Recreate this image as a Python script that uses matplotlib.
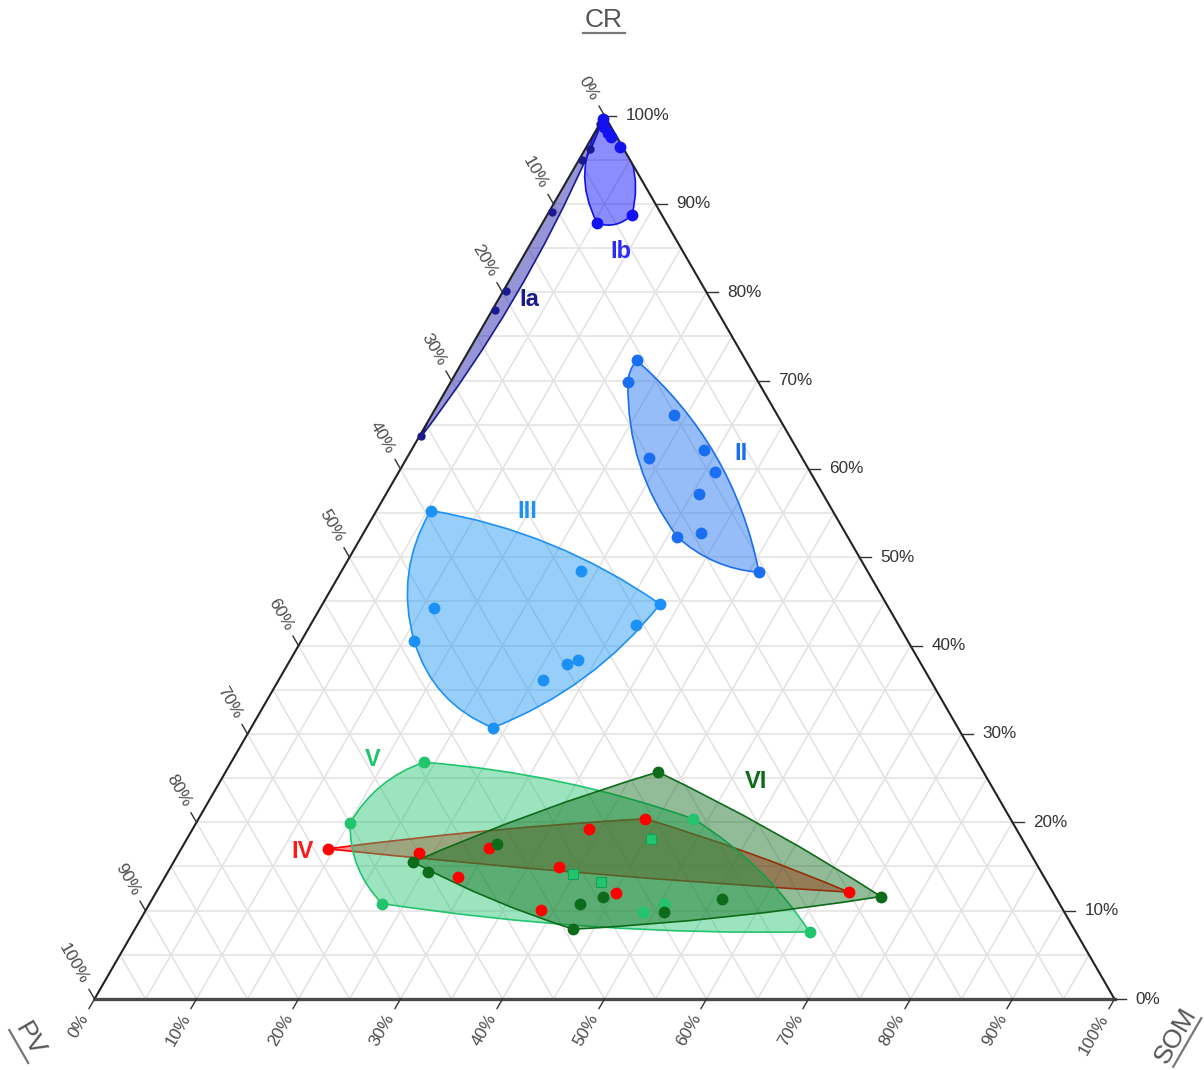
import numpy as np
import matplotlib
matplotlib.use("Agg")
import matplotlib.pyplot as plt
from matplotlib.path import Path
from matplotlib.patches import PathPatch, Polygon

plt.rcParams['font.family'] = ['Liberation Sans', 'DejaVu Sans']

# ---------------- data (percent) ----------------
Ia_CR = [99.0, 96.2, 95.0, 89.1, 80.2, 78.0, 63.7]
Ia_PV = [0.9, 3.3, 4.7, 10.6, 19.6, 21.7, 36.1]
Ia_SOM = [0.1, 0.5, 0.3, 0.3, 0.2, 0.3, 0.2]

Ib_CR = [99.6, 98.7, 98.0, 97.6, 96.4, 87.8, 88.8]
Ib_PV = [0.3, 0.7, 0.7, 0.6, 0.3, 6.8, 2.9]
Ib_SOM = [0.1, 0.6, 1.3, 1.8, 3.3, 5.4, 8.3]

II_CR = [72.3, 69.8, 66.1, 62.2, 61.3, 59.7, 57.2, 52.3, 52.8, 48.3]
II_PV = [10.7, 12.8, 10.1, 9.1, 15.0, 9.3, 12.1, 16.7, 14.1, 10.7]
II_SOM = [17.0, 17.4, 23.8, 28.7, 23.7, 31.0, 30.7, 31.0, 33.1, 41.0]

III_CR = [55.3, 48.5, 44.7, 42.3, 44.3, 40.5, 38.4, 37.9, 36.1, 30.7]
III_PV = [39.4, 28.1, 22.2, 25.8, 44.6, 48.4, 33.4, 34.7, 38.0, 45.6]
III_SOM = [5.3, 23.4, 33.1, 31.9, 11.1, 11.1, 28.2, 27.4, 25.9, 23.7]

IV_CR = [17.0, 16.5, 13.8, 17.1, 19.2, 20.4, 14.9, 10.1, 12.0, 12.1]
IV_PV = [68.6, 59.9, 57.5, 52.8, 41.9, 35.8, 47.0, 51.2, 42.9, 20.0]
IV_SOM = [14.4, 23.6, 28.7, 30.1, 38.9, 43.8, 38.1, 38.7, 45.1, 67.9]

V_CR = [26.8, 19.9, 10.8, 20.4, 7.6, 9.8, 10.8]
V_PV = [54.3, 65.0, 66.4, 31.1, 26.1, 41.3, 38.8]
V_SOM = [18.9, 15.1, 22.8, 48.5, 66.3, 48.9, 50.4]
Vsq_CR = [18.1, 14.1, 13.3]
Vsq_PV = [36.4, 46.0, 43.7]
Vsq_SOM = [45.5, 39.9, 43.0]

VI_CR = [25.7, 11.6, 11.3, 9.8, 11.6, 10.7, 7.9, 17.5, 14.4, 15.5]
VI_PV = [31.9, 17.1, 32.8, 39.3, 44.3, 47.1, 49.1, 51.8, 60.1, 61.0]
VI_SOM = [42.4, 71.3, 55.9, 50.9, 44.1, 42.2, 43.0, 30.7, 25.5, 23.5]

ticks = list(range(0, 101, 10))
tick_labels = [f"{t}%" for t in ticks]
grid_steps = list(range(5, 100, 5))
axis_titles = ['CR', 'PV', 'SOM']

# ---------------- helpers ----------------
S = 1020.0  # pixels per unit side


def to_xy(cr, pv, som):
    cr = np.asarray(cr, float); pv = np.asarray(pv, float); som = np.asarray(som, float)
    s = cr + pv + som
    c, m = cr / s, som / s
    return m + c / 2.0, c * np.sqrt(3) / 2.0


def px(x, y):
    return (x - 94.5) / S, (999 - y) / S


def convex_hull(pts):
    pts = sorted(map(tuple, pts))
    def cross(o, a, b):
        return (a[0]-o[0])*(b[1]-o[1]) - (a[1]-o[1])*(b[0]-o[0])
    lower, upper = [], []
    for p in pts:
        while len(lower) >= 2 and cross(lower[-2], lower[-1], p) <= 0:
            lower.pop()
        lower.append(p)
    for p in reversed(pts):
        while len(upper) >= 2 and cross(upper[-2], upper[-1], p) <= 0:
            upper.pop()
        upper.append(p)
    return [np.array(p) for p in lower[:-1] + upper[:-1]]


def simplify(h, thr):
    h = list(h)
    changed = True
    while changed and len(h) > 3:
        changed = False
        n = len(h)
        for i in range(n):
            p0, p1, p2 = h[i-1], h[i], h[(i+1) % n]
            a1 = np.arctan2(*(p1-p0)[::-1]); a2 = np.arctan2(*(p2-p1)[::-1])
            t = abs((np.degrees(a2-a1) + 180) % 360 - 180)
            if t < thr:
                del h[i]
                changed = True
                break
    return h


def bowed_path(h, a_px, f):
    verts = [h[0]]; codes = [Path.MOVETO]
    n = len(h)
    for i in range(n):
        p, q = h[i], h[(i+1) % n]
        d = q - p
        L = np.hypot(*d)
        nrm = np.array([d[1], -d[0]]) / L
        b = min(a_px / S + f * L, 0.25 * L)
        c = (p + q) / 2 + nrm * 2 * b
        verts += [c, q]; codes += [Path.CURVE3, Path.CURVE3]
    verts.append(h[0]); codes.append(Path.CLOSEPOLY)
    return Path(verts, codes)


# ---------------- figure ----------------
fig = plt.figure(figsize=(12.04, 10.70), dpi=100)
ax = fig.add_axes([0, 0, 1, 1])
ax.set_xlim(-94.5 / S, (1204 - 94.5) / S)
ax.set_ylim((999 - 1070) / S, 999 / S)
ax.axis('off')

# grid
gc = '#e2e2e2'
for k in grid_steps:
    x, y = to_xy([k, k], [100-k, 0], [0, 100-k]); ax.plot(x, y, color=gc, lw=1.1, zorder=1)
    x, y = to_xy([100-k, 0], [k, k], [0, 100-k]); ax.plot(x, y, color=gc, lw=1.1, zorder=1)
    x, y = to_xy([100-k, 0], [0, 100-k], [k, k]); ax.plot(x, y, color=gc, lw=1.1, zorder=1)

# triangle border
tx, ty = to_xy([100, 0, 0], [0, 100, 0], [0, 0, 100])
ax.plot([tx[1], tx[0], tx[2]], [ty[1], ty[0], ty[2]], color='#222222', lw=1.5, zorder=8)
ax.plot([tx[1], tx[2]], [ty[1], ty[2]], color='#4a4a4a', lw=2.4, zorder=8)
tri = Polygon(np.column_stack([tx, ty]), closed=True, transform=ax.transData)

# ticks and labels
tick_c = '#333333'
lab_c = '#4a4a4a'
fs = 12.3
d_tick = 11 / S
d_lab = 19 / S
for t, lab in zip(ticks, tick_labels):
    # right axis: CR
    x, y = to_xy([t], [0], [100 - t]); x, y = x[0], y[0]
    ax.plot([x, x + d_tick], [y, y], color=tick_c, lw=1.0, zorder=8)
    ax.text(x + 21 / S, y, lab, ha='left', va='center', fontsize=fs, color='#333333')
    # left axis: PV
    x, y = to_xy([100 - t], [t], [0]); x, y = x[0], y[0]
    dx, dy = -0.5, np.sqrt(3) / 2
    ax.plot([x, x + dx * d_tick], [y, y + dy * d_tick], color=tick_c, lw=1.0, zorder=8)
    ax.text(x + dx * d_lab, y + dy * d_lab, lab, ha='right', va='center', rotation=-60,
            rotation_mode='anchor', fontsize=fs, color=lab_c)
    # bottom axis: SOM
    x, y = to_xy([0], [100 - t], [t]); x, y = x[0], y[0]
    dx, dy = -0.5, -np.sqrt(3) / 2
    ax.plot([x, x + dx * d_tick], [y, y + dy * d_tick], color=tick_c, lw=1.0, zorder=8)
    ax.text(x + dx * d_lab, y + dy * d_lab, lab, ha='right', va='center', rotation=60,
            rotation_mode='anchor', fontsize=fs, color=lab_c)

# axis titles with underline
tc = '#555555'


def title_ul(text, cxy, rot, half_w):
    cx, cy = px(*cxy)
    ax.text(cx, cy, text, ha='center', va='center', fontsize=19, color=tc,
            rotation=rot, rotation_mode='anchor')
    th = np.radians(rot)
    u = np.array([np.cos(th), np.sin(th)])
    dn = np.array([np.sin(th), -np.cos(th)])
    c = np.array([cx, cy]) + dn * 13 / S
    p0 = c - u * half_w / S
    p1 = c + u * half_w / S
    ax.plot([p0[0], p1[0]], [p0[1], p1[1]], color='#777777', lw=1.6)


title_ul(axis_titles[0], (604, 20), 0, 21)
title_ul(axis_titles[1], (30, 1040), -60, 19)
title_ul(axis_titles[2], (1176, 1036), 60, 28)

# groups
groups = [
    ('Ia', Ia_CR, Ia_PV, Ia_SOM, '#1a1a8e', '#2a2ab0', 0.5, 0, 0.03, 5, (529, 299), '#1a1a8e'),
    ('Ib', Ib_CR, Ib_PV, Ib_SOM, '#1212f0', '#0000ff', 0.45, 0, 0.15, 7.5, (621, 252), '#2a2aff'),
    ('II', II_CR, II_PV, II_SOM, '#1a6ef0', '#1a6ef0', 0.45, 0, 0.085, 7.5, (741, 453), '#1a6ef0'),
    ('III', III_CR, III_PV, III_SOM, '#1b90f5', '#1b96f5', 0.45, 14, 0.0, 7.5, (527, 512), '#1b90f5'),
    ('IV', IV_CR, IV_PV, IV_SOM, '#ff0000', '#ff0000', 0.45, 3, 0.0, 7.5, (303, 851), '#ff1a1a'),
    ('V', V_CR, V_PV, V_SOM, '#22c46e', '#22c46e', 0.45, 9, 0.0, 7.5, (373, 760), '#22c46e'),
    ('VI', VI_CR, VI_PV, VI_SOM, '#0e6b1a', '#0e6b1a', 0.45, 4, 0.0, 7.5, (756, 781), '#0e6b1a'),
]

z = 3
for name, cr, pv, som, lc, fc, al, bpx, bf, ms, lpos, labc in groups:
    x, y = to_xy(cr, pv, som)
    pts = np.column_stack([x, y])
    if name == 'V':
        xs, ys = to_xy(Vsq_CR, Vsq_PV, Vsq_SOM)
        pts = np.vstack([pts, np.column_stack([xs, ys])])
    h = simplify(convex_hull(pts), 20)
    path = bowed_path(h, bpx, bf)
    pf = PathPatch(path, facecolor=fc, alpha=al, edgecolor='none', zorder=z)
    pf.set_clip_path(tri)
    ax.add_patch(pf)
    pe = PathPatch(path, facecolor='none', edgecolor=lc, lw=1.2, zorder=z + 0.1)
    pe.set_clip_path(tri)
    ax.add_patch(pe)
    z += 0.2
    ax.plot(x, y, 'o', color=lc, ms=ms, mec=lc, zorder=10)
    if name == 'V':
        ax.plot(xs, ys, 's', color=lc, ms=6.5, mec='#14a05a', mew=0.8, zorder=10)
    ax.text(*px(*lpos), name, ha='center', va='center', fontsize=17, fontweight='bold',
            color=labc, zorder=11)

fig.savefig('out.png', dpi=100)
